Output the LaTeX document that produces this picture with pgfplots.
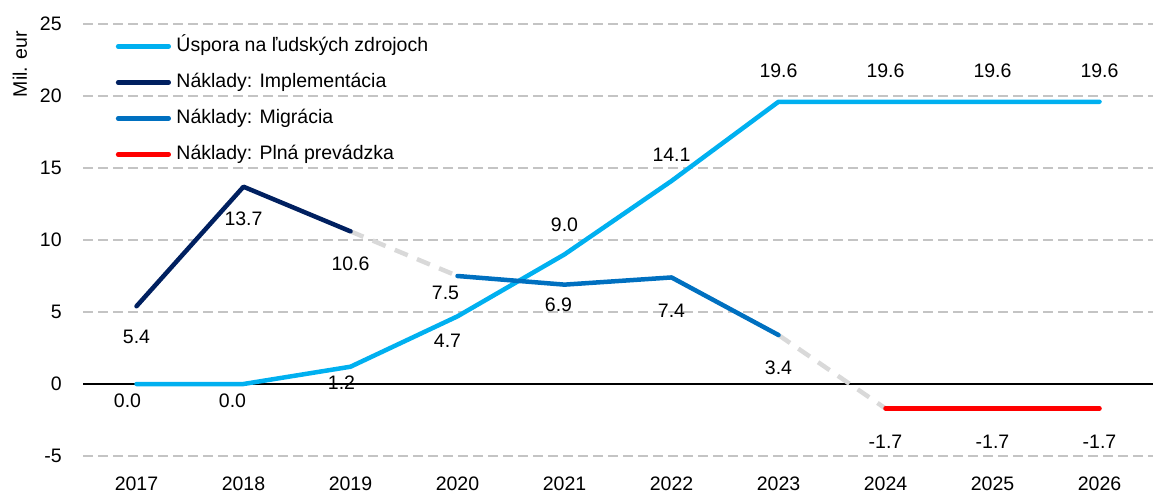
\documentclass[border=0pt]{standalone}
\usepackage{fontspec}
\setmainfont{Liberation Sans}
\usepackage{pgfplots}
\pgfplotsset{compat=1.18}
\definecolor{cLight}{HTML}{00B0F0}
\definecolor{cNavy}{HTML}{002060}
\definecolor{cMid}{HTML}{0070C0}
\definecolor{cRed}{HTML}{FF0000}
\definecolor{cConn}{HTML}{D9D9D9}
\definecolor{cGrid}{HTML}{C4C4C4}
\tikzset{lbl/.style={anchor=center, inner sep=0pt}}
\begin{document}
\fontsize{9.75bp}{11.5bp}\selectfont
\begin{tikzpicture}
\begin{axis}[
  scale only axis, width=535bp, height=216bp,
  xmin=2016.5, xmax=2026.5, ymin=-5, ymax=25,
  xtick={2017,2018,2019,2020,2021,2022,2023,2024,2025,2026},
  xticklabels={2017,2018,2019,2020,2021,2022,2023,2024,2025,2026},
  ytick={-5,0,5,10,15,20,25},
  yticklabels={-5,0,5,10,15,20,25},
  axis line style={draw=none}, major tick length=0pt,
  xticklabel style={anchor=north, inner sep=0pt, yshift=-10bp},
  yticklabel style={anchor=east, inner sep=0pt, xshift=-10.5bp},
  ymajorgrids, grid style={cGrid, line width=0.75bp, dash pattern=on 5bp off 2.5bp},
  extra y ticks={0}, extra y tick labels={},
  extra y tick style={ymajorgrids, grid style={black, solid, line width=0.8bp}},
  ylabel={Mil. eur},
  every axis y label/.style={at={(rel axis cs:0,0.907)}, xshift=-31.5bp, rotate=90, anchor=center},
  legend cell align=left,
  legend style={at={(rel axis cs:0,1)}, anchor=north west, xshift=16.25bp, yshift=-6.5bp,
    draw=none, fill=none, inner sep=0pt, row sep=9bp, column sep=1.5bp,
    nodes={inner xsep=1.25bp, inner ysep=0pt, text height=7bp, text depth=2bp}},
  legend image code/.code={\draw[#1, line width=2.25bp, line cap=round] (1.1bp,0bp) -- (26.4bp,0bp);},
  every axis plot/.append style={line width=2.25bp, line cap=round, line join=round},
]
\addplot[cConn, dash pattern=on 7bp off 5bp, line cap=butt, forget plot] coordinates {(2019,10.6) (2020,7.5)};
\addplot[cConn, dash pattern=on 7bp off 5bp, line cap=butt, forget plot] coordinates {(2023,3.4) (2024,-1.7)};
\addplot[cLight] coordinates {(2017,0) (2018,0) (2019,1.2) (2020,4.7) (2021,9.0) (2022,14.1) (2023,19.6) (2024,19.6) (2025,19.6) (2026,19.6)};
\addlegendentry{Úspora na ľudských zdrojoch}
\addplot[cNavy] coordinates {(2017,5.4) (2018,13.7) (2019,10.6)};
\addlegendentry{Náklady: Implementácia}
\addplot[cMid] coordinates {(2020,7.5) (2021,6.9) (2022,7.4) (2023,3.4)};
\addlegendentry{Náklady: Migrácia}
\addplot[cRed] coordinates {(2024,-1.7) (2025,-1.7) (2026,-1.7)};
\addlegendentry{Náklady: Plná prevádzka}
% labels
\node[lbl, yshift=-8.5bp, xshift=-4.5bp] at (axis cs:2017,0) {0.0};
\node[lbl, yshift=-8.5bp, xshift=-5.5bp] at (axis cs:2018,0) {0.0};
\node[lbl, yshift=-8bp, xshift=-4.5bp] at (axis cs:2019,1.2) {1.2};
\node[lbl, yshift=-12bp, xshift=-5bp] at (axis cs:2020,4.7) {4.7};
\node[lbl, yshift=15bp] at (axis cs:2021,9.0) {9.0};
\node[lbl, yshift=13bp] at (axis cs:2022,14.1) {14.1};
\node[lbl, yshift=15.5bp] at (axis cs:2023,19.6) {19.6};
\node[lbl, yshift=15.5bp] at (axis cs:2024,19.6) {19.6};
\node[lbl, yshift=15.5bp] at (axis cs:2025,19.6) {19.6};
\node[lbl, yshift=15.5bp] at (axis cs:2026,19.6) {19.6};
\node[lbl, yshift=-15.5bp] at (axis cs:2017,5.4) {5.4};
\node[lbl, yshift=-16bp] at (axis cs:2018,13.7) {13.7};
\node[lbl, yshift=-16bp] at (axis cs:2019,10.6) {10.6};
\node[lbl, yshift=-8.5bp, xshift=-6bp] at (axis cs:2020,7.5) {7.5};
\node[lbl, yshift=-10bp, xshift=-3bp] at (axis cs:2021,6.9) {6.9};
\node[lbl, yshift=-16.5bp] at (axis cs:2022,7.4) {7.4};
\node[lbl, yshift=-16.5bp] at (axis cs:2023,3.4) {3.4};
\node[lbl, yshift=-16.5bp] at (axis cs:2024,-1.7) {-1.7};
\node[lbl, yshift=-16.5bp] at (axis cs:2025,-1.7) {-1.7};
\node[lbl, yshift=-16.5bp] at (axis cs:2026,-1.7) {-1.7};
\coordinate (sw) at (rel axis cs:0,0);
\coordinate (ne) at (rel axis cs:1,1);
\end{axis}
\pgfresetboundingbox
\path ([xshift=-41.5bp,yshift=-18.5bp]sw) rectangle ([yshift=12bp]ne);
\end{tikzpicture}
\end{document}
